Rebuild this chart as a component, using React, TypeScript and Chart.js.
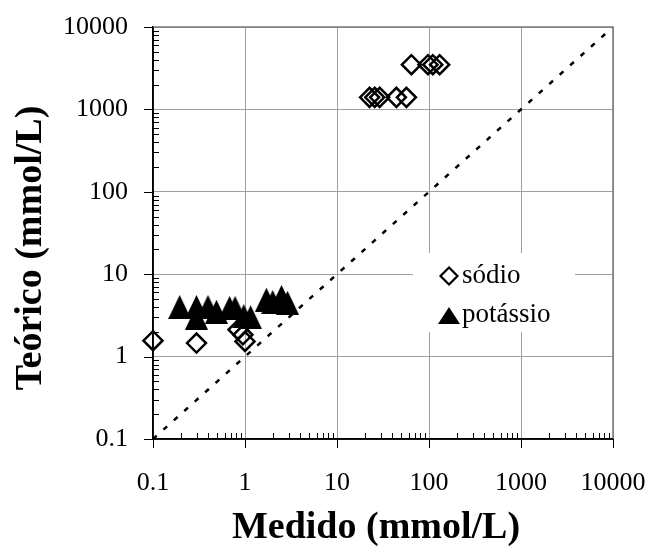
import React, { useEffect, useRef } from 'react';
import { Chart, registerables } from 'chart.js';

Chart.register(...registerables);

// ---- data ----
const tickValues = [0.1, 1, 10, 100, 1000, 10000];
const tickLabels = ['0.1', '1', '10', '100', '1000', '10000'];

const sodioMedido = [0.1, 0.297, 0.84, 0.95, 1.0, 22.6, 25.7, 29.1, 44.2, 56.8, 64.4, 97.5, 110, 130.6];
const sodioTeorico = [1.56, 1.46, 2.12, 1.84, 1.53, 1400, 1400, 1400, 1400, 1400, 3490, 3490, 3490, 3490];

const potassioMedido = [0.195, 0.297, 0.297, 0.396, 0.49, 0.68, 0.78, 0.97, 1.15, 1.71, 2.0, 2.49, 2.9];
const potassioTeorico = [4.0, 4.0, 2.97, 4.0, 3.5, 3.9, 3.9, 3.1, 3.0, 4.9, 4.6, 5.3, 4.5];

const diagonalValues = [0.1, 10000];

const legendLabels = ['sódio', 'potássio'];
const xTitle = 'Medido (mmol/L)';
const yTitle = 'Teórico (mmol/L)';

const FONT = "'Liberation Serif', 'Times New Roman', serif";

function makeTriangle(w: number, h: number): HTMLCanvasElement {
  const c = document.createElement('canvas');
  c.width = w;
  c.height = h;
  const g = c.getContext('2d')!;
  g.fillStyle = '#000';
  g.beginPath();
  g.moveTo(w / 2, 0);
  g.lineTo(w, h);
  g.lineTo(0, h);
  g.closePath();
  g.fill();
  return c;
}

const decorPlugin = {
  id: 'decor',
  afterDraw(chart: any) {
    const { ctx, chartArea, scales } = chart;
    const { left, right, top, bottom } = chartArea;
    const xs = scales.x;
    const ys = scales.y;
    ctx.save();

    // top / right frame
    ctx.strokeStyle = '#7a7a7a';
    ctx.lineWidth = 1.5;
    ctx.beginPath();
    ctx.moveTo(left, top);
    ctx.lineTo(right, top);
    ctx.lineTo(right, bottom);
    ctx.stroke();

    // left / bottom axis lines
    ctx.strokeStyle = '#000';
    ctx.lineWidth = 1.5;
    ctx.beginPath();
    ctx.moveTo(left, top);
    ctx.lineTo(left, bottom);
    ctx.lineTo(right, bottom);
    ctx.stroke();

    // ticks
    ctx.lineWidth = 1;
    ctx.beginPath();
    tickValues.forEach((v, i) => {
      const px = Math.round(xs.getPixelForValue(v)) + 0.5;
      ctx.moveTo(px, bottom);
      ctx.lineTo(px, bottom + 9);
      const py = Math.round(ys.getPixelForValue(v)) + 0.5;
      ctx.moveTo(left - 9, py);
      ctx.lineTo(left, py);
      if (i < tickValues.length - 1) {
        for (let k = 2; k <= 9; k++) {
          const mv = v * k;
          const mx = Math.round(xs.getPixelForValue(mv)) + 0.5;
          ctx.moveTo(mx, bottom);
          ctx.lineTo(mx, bottom - 6);
          const my = Math.round(ys.getPixelForValue(mv)) + 0.5;
          ctx.moveTo(left, my);
          ctx.lineTo(left + 6, my);
        }
      }
    });
    ctx.stroke();

    // legend
    ctx.fillStyle = '#fff';
    ctx.fillRect(413, 253, 162, 79);
    ctx.strokeStyle = '#000';
    ctx.lineWidth = 2.2;
    ctx.beginPath();
    ctx.moveTo(449, 267.5);
    ctx.lineTo(457.5, 276);
    ctx.lineTo(449, 284.5);
    ctx.lineTo(440.5, 276);
    ctx.closePath();
    ctx.stroke();
    ctx.fillStyle = '#000';
    ctx.beginPath();
    ctx.moveTo(449, 307);
    ctx.lineTo(460, 324);
    ctx.lineTo(438, 324);
    ctx.closePath();
    ctx.fill();
    ctx.font = `27px ${FONT}`;
    ctx.textAlign = 'left';
    ctx.textBaseline = 'alphabetic';
    ctx.fillText(legendLabels[0], 462, 283);
    ctx.fillText(legendLabels[1], 462, 322);

    // axis titles
    ctx.font = `bold 38px ${FONT}`;
    ctx.textAlign = 'center';
    ctx.fillText(xTitle, 376, 538);
    ctx.translate(41, 248);
    ctx.rotate(-Math.PI / 2);
    ctx.fillText(yTitle, 0, 0);

    ctx.restore();
  },
};

function zeroPadding(s: any) {
  s.paddingTop = 0;
  s.paddingBottom = 0;
  s.paddingLeft = 0;
  s.paddingRight = 0;
}

export default function App() {
  const ref = useRef<HTMLCanvasElement | null>(null);

  useEffect(() => {
    if (!ref.current) return;
    const tri = makeTriangle(23, 24);

    const chart = new Chart(ref.current, {
      type: 'scatter',
      data: {
        datasets: [
          {
            label: legendLabels[0],
            data: sodioMedido.map((x, i) => ({ x, y: sodioTeorico[i] })),
            pointStyle: 'rectRot',
            pointRadius: 9.5,
            pointBorderWidth: 2.5,
            borderColor: '#000',
            backgroundColor: 'rgba(0,0,0,0)',
            clip: false,
            order: 1,
          } as any,
          {
            label: legendLabels[1],
            data: potassioMedido.map((x, i) => ({ x, y: potassioTeorico[i] })),
            pointStyle: tri,
            pointRadius: 12,
            pointBorderWidth: 0,
            borderColor: '#000',
            backgroundColor: '#000',
            clip: false,
            order: 0,
          } as any,
          {
            label: '1:1',
            data: diagonalValues.map((v) => ({ x: v, y: v })),
            showLine: true,
            borderColor: '#000',
            borderWidth: 2.5,
            borderDash: [5, 9],
            pointRadius: 0,
            fill: false,
            order: 5,
          } as any,
        ],
      },
      options: {
        animation: false,
        responsive: false,
        maintainAspectRatio: false,
        layout: { padding: { top: 27, right: 40, left: 0, bottom: 0 } },
        plugins: {
          legend: { display: false },
          tooltip: { enabled: false },
          title: { display: false },
        },
        scales: {
          x: {
            type: 'logarithmic',
            min: 0.1,
            max: 10000,
            afterBuildTicks: (s: any) => {
              s.ticks = tickValues.map((v) => ({ value: v }));
            },
            afterFit: (s: any) => {
              s.height = 108;
              zeroPadding(s);
            },
            ticks: {
              callback: (_v: any, i: number) => tickLabels[i],
              font: { size: 26, family: FONT },
              color: '#000',
              padding: 29,
              maxRotation: 0,
              autoSkip: false,
            },
            grid: { color: '#a0a0a0', lineWidth: 1, drawTicks: false },
            border: { color: '#000', width: 1.5 },
          },
          y: {
            type: 'logarithmic',
            min: 0.1,
            max: 10000,
            afterBuildTicks: (s: any) => {
              s.ticks = tickValues.map((v) => ({ value: v }));
            },
            afterFit: (s: any) => {
              s.width = 153;
              zeroPadding(s);
            },
            ticks: {
              callback: (_v: any, i: number) => tickLabels[i],
              font: { size: 26, family: FONT },
              color: '#000',
              padding: 25,
              autoSkip: false,
            },
            grid: { color: '#a0a0a0', lineWidth: 1, drawTicks: false },
            border: { color: '#000', width: 1.5 },
          },
        },
      } as any,
      plugins: [decorPlugin],
    });

    return () => chart.destroy();
  }, []);

  return (
    <div style={{ position: 'fixed', left: 0, top: 0, width: 653, height: 547, background: '#fff' }}>
      <canvas ref={ref} width={653} height={547} style={{ display: 'block', width: 653, height: 547 }} />
    </div>
  );
}
